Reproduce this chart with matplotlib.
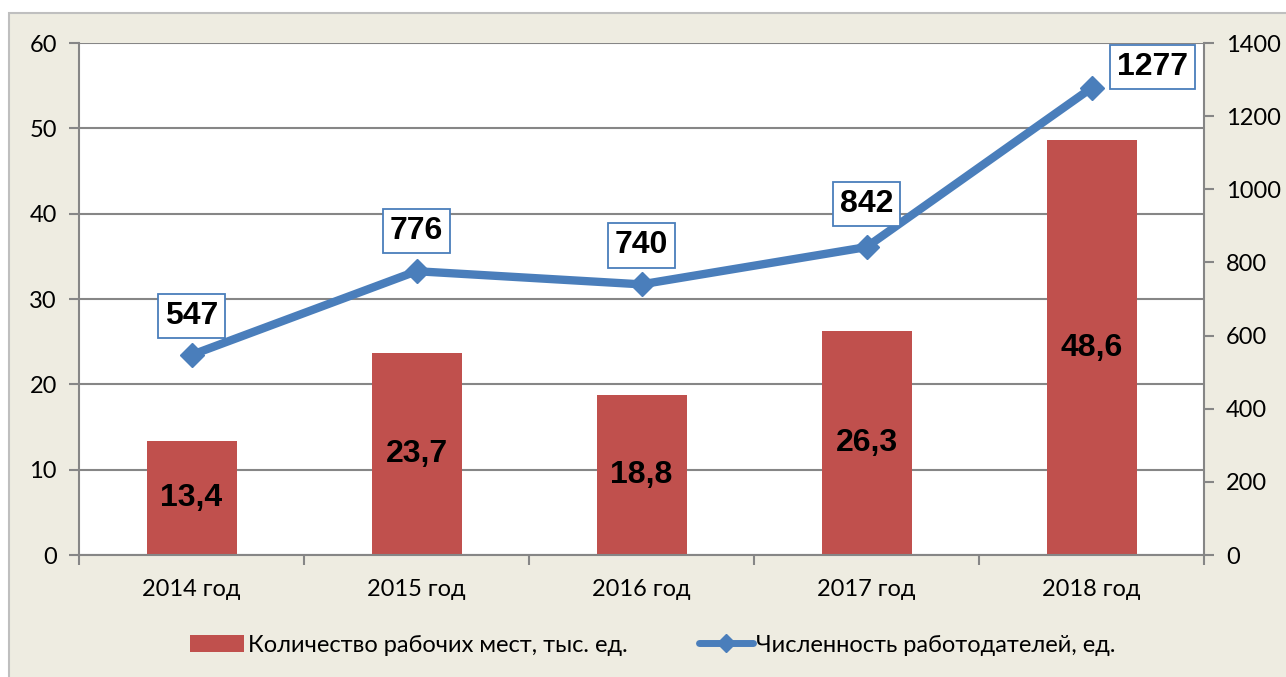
import matplotlib.pyplot as plt
import numpy as np
from matplotlib.patches import Rectangle

years = ["2014 год", "2015 год", "2016 год", "2017 год", "2018 год"]
jobs = [13.4, 23.7, 18.8, 26.3, 48.6]          # тыс. ед.
employers = [547, 776, 740, 842, 1277]         # ед.
jobs_labels = ["13,4", "23,7", "18,8", "26,3", "48,6"]

bar_color = "#C0504D"
line_color = "#4A7EBB"
grid_color = "#868686"
bg_color = "#EEECE1"

plt.rcParams['font.family'] = ['Lato', 'DejaVu Sans']

fig = plt.figure(figsize=(12.86, 6.77), dpi=100, facecolor="white")
# beige chart area with thin border
fig.patches.append(Rectangle((9 / 1286, -0.01), 1.0, 1 - 13 / 677 + 0.01,
                             transform=fig.transFigure, facecolor=bg_color,
                             edgecolor="#BFBFBF", linewidth=1.5, zorder=-10))

ax = fig.add_axes([79 / 1286, 122 / 677, 1125 / 1286, 512 / 677])
ax.set_facecolor("white")
x = np.arange(len(years))

ax.bar(x, jobs, width=0.4, color=bar_color, zorder=2,
       label="Количество рабочих мест, тыс. ед.")
for xi, v, lab in zip(x, jobs, jobs_labels):
    ax.text(xi, v / 2, lab, ha="center", va="center", fontsize=23,
            fontweight="bold", family="Liberation Sans", zorder=3)

ax.set_xlim(-0.5, len(years) - 0.5)
ax.set_ylim(0, 60)
ax.set_yticks(np.arange(0, 61, 10))
ax.yaxis.grid(True, color=grid_color, linewidth=1.5)
ax.set_axisbelow(True)
ax.set_xticks(x)
ax.set_xticklabels(years, fontsize=17)
ax.set_xticks(np.arange(-0.5, len(years)), minor=True)
ax.tick_params(axis="x", which="major", length=0, pad=17)
ax.tick_params(axis="x", which="minor", length=7, width=1.5, color=grid_color, direction="out")
ax.tick_params(axis="y", length=7, width=1.5, color=grid_color, labelsize=17, pad=9)
for s in ["top", "right"]:
    ax.spines[s].set_visible(False)
for s in ["left", "bottom"]:
    ax.spines[s].set_color(grid_color)
    ax.spines[s].set_linewidth(1.5)

ax2 = ax.twinx()
ax2.plot(x, employers, color=line_color, linewidth=6, marker="D", markersize=12,
         solid_capstyle="round", zorder=4, label="Численность работодателей, ед.")
ax2.set_ylim(0, 1400)
ax2.set_yticks(np.arange(0, 1401, 200))
ax2.tick_params(axis="y", length=7, width=1.5, color=grid_color, labelsize=17, pad=9)
for s in ["top", "left", "bottom"]:
    ax2.spines[s].set_visible(False)
ax2.spines["right"].set_color(grid_color)
ax2.spines["right"].set_linewidth(1.5)

offsets = [(0, 28), (0, 29), (0, 28), (0, 31), (44, 15)]
for xi, v, off in zip(x, employers, offsets):
    ax2.annotate(str(v), (xi, v), xytext=off, textcoords="offset points",
                 ha="center", va="center", fontsize=23, fontweight="bold",
                 family="Liberation Sans", zorder=5,
                 bbox=dict(boxstyle="square,pad=0.22", facecolor="white",
                           edgecolor=line_color, linewidth=1.3))

h1, l1 = ax.get_legend_handles_labels()
h2, l2 = ax2.get_legend_handles_labels()
leg = fig.legend(h1 + h2, l1 + l2, loc="center",
                 bbox_to_anchor=(0.5 + 10 / 1286, 32 / 677),
                 ncol=2, frameon=False, fontsize=17, handlelength=2.3,
                 handletextpad=0.15, columnspacing=3.0, markerscale=0.8)
leg.legend_handles[1].set_linewidth(5)

fig.savefig("out.png", dpi=100, facecolor=fig.get_facecolor())
